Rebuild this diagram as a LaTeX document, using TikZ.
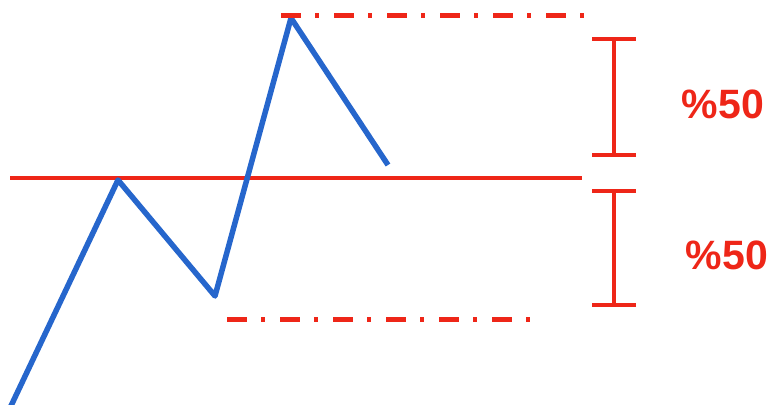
\documentclass[tikz,border=0pt]{standalone}
\usepackage{fontspec}
\setmainfont{Liberation Sans}
\usetikzlibrary{positioning,arrows.meta}
\definecolor{levelred}{RGB}{238,38,24}
\definecolor{priceblue}{RGB}{38,102,204}

\begin{document}
\begin{tikzpicture}[
  x=1pt, y=-1pt,
  price/.style={draw=priceblue, line width=5.5pt, line join=round},
  level/.style={draw=levelred, line width=4.5pt},
  guide/.style={draw=levelred, line width=5pt, dash pattern=on 20pt off 14pt on 4pt off 15pt},
  span/.style={draw=levelred, line width=4pt, {Bar[width=44pt]}-{Bar[width=44pt]}},
  pct/.style={text=levelred, font=\bfseries\fontsize{41}{41}\selectfont, inner sep=0pt}
]
\useasboundingbox (0,0) rectangle (775,404);
% zigzag points
\coordinate (p0) at (10,408);
\coordinate (p1) at (118,180);
\coordinate (p2) at (215,296);
\coordinate (p3) at (291,18);
\coordinate (p4) at (388,165);
% levels
\coordinate (lvlL) at (10,178);
\coordinate (lvlR) at (582,178);
\coordinate (topL) at (281,16);
\coordinate (topR) at (589,16);
\coordinate (botL) at (227,319);
\coordinate (botR) at (534,319);
\coordinate (upA) at (614,37);
\coordinate (upB) at (614,157);
\coordinate (dnA) at (614,189);
\coordinate (dnB) at (614,307);
\draw[level] (lvlL) -- (lvlR);
\draw[price] (p0) -- (p1) -- (p2) -- (p3) -- (p4);
\draw[guide] (topL) -- (topR);
\draw[guide] (botL) -- (botR);
\draw[span] (upA) -- (upB);
\draw[span] (dnA) -- (dnB);
\node[pct] (upper) at (723,104) {\%50};
\node[pct] (lower) at (727,255) {\%50};
\end{tikzpicture}
\end{document}
